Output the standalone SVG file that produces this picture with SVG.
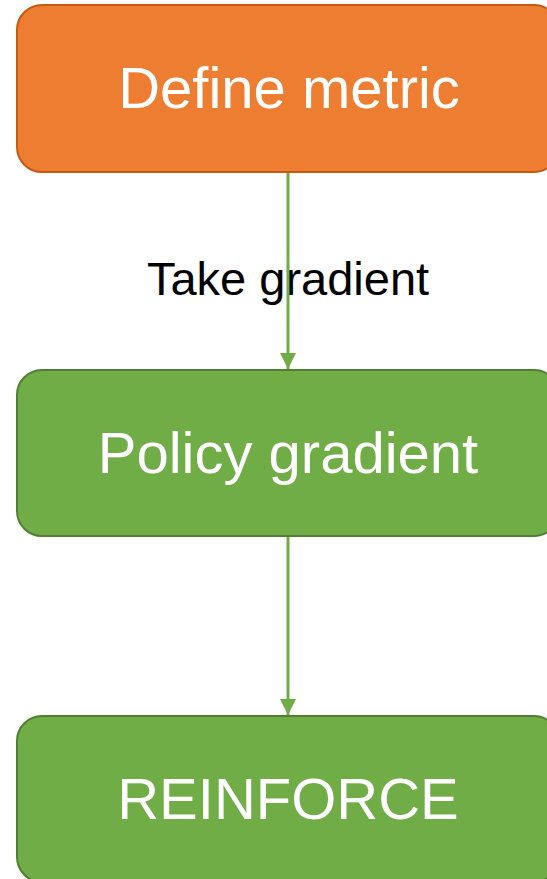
<svg xmlns="http://www.w3.org/2000/svg" width="547" height="879" viewBox="0 0 547 879">
<style>
.box{stroke-width:2}
.orange{fill:#ED7D31;stroke:#C55A11}
.green{fill:#70AD47;stroke:#507E32}
.t{font-family:"Liberation Sans",Arial,sans-serif;font-size:58px;fill:#FFFFFF;text-anchor:middle}
.lbl{font-family:"Liberation Sans",Arial,sans-serif;font-size:47px;fill:#000000;text-anchor:middle}
.edge{stroke:#70AD47;stroke-width:3;fill:none}
</style>
<defs>
<marker id="arr" markerWidth="16" markerHeight="16" refX="16" refY="8" orient="auto" markerUnits="userSpaceOnUse">
<path d="M0,0 L16,8 L0,16 Z" fill="#70AD47"/>
</marker>
</defs>
<rect width="547" height="879" fill="#FFFFFF"/>
<g id="define-metric">
<rect class="box orange" x="17" y="5" width="542" height="167" rx="25" ry="25"/>
<text class="t" x="289" y="108">Define metric</text>
</g>
<g id="policy-gradient">
<rect class="box green" x="17" y="370" width="542" height="166" rx="25" ry="25"/>
<text class="t" x="288" y="473">Policy gradient</text>
</g>
<g id="reinforce">
<rect class="box green" x="17" y="716" width="542" height="166" rx="25" ry="25"/>
<text class="t" x="288" y="819">REINFORCE</text>
</g>
<g id="connectors">
<text class="lbl" x="288" y="295">Take gradient</text>
<line class="edge" x1="288" y1="173" x2="288" y2="369" marker-end="url(#arr)"/>
<line class="edge" x1="288" y1="537" x2="288" y2="715" marker-end="url(#arr)"/>
</g>
</svg>
